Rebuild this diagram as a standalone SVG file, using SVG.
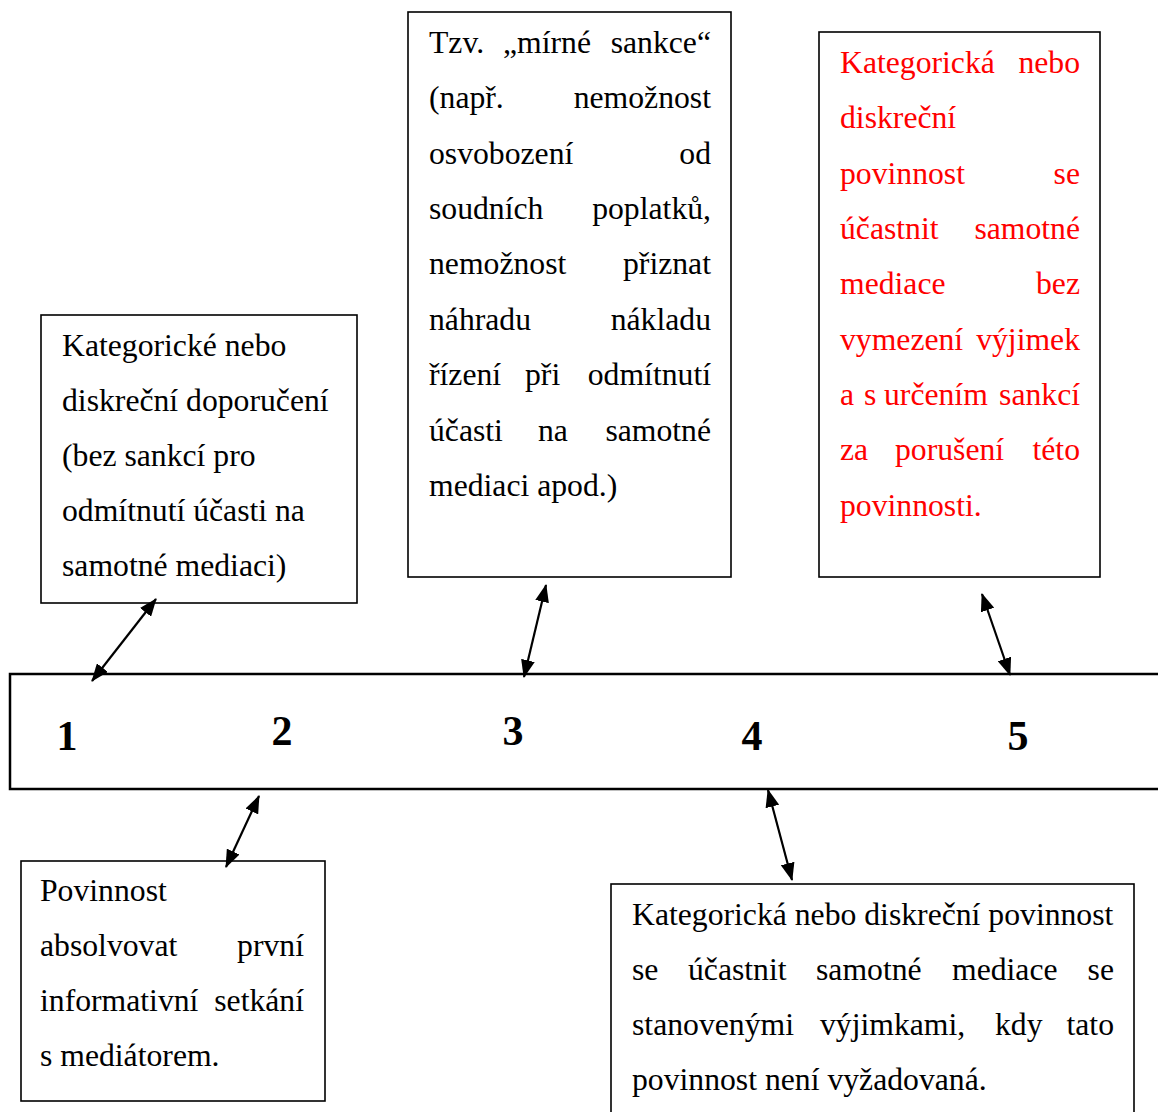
<svg xmlns="http://www.w3.org/2000/svg" width="1158" height="1112" viewBox="0 0 1158 1112">
<style>
.box{fill:#fff;stroke:#000;stroke-width:1.6}
.main{fill:#fff;stroke:#000;stroke-width:2.5}
.t{font-family:"Liberation Serif","Times New Roman",serif;font-size:31.7px;fill:#000}
.r{fill:#ff0000}
.e{text-anchor:end}
.num{font-family:"Liberation Serif","Times New Roman",serif;font-size:42px;font-weight:bold;fill:#000;text-anchor:middle}
.conn line{stroke:#000;stroke-width:2.2;marker-start:url(#ah);marker-end:url(#ah)}
</style>
<defs>
<marker id="ah" viewBox="0 0 18 14" markerWidth="18" markerHeight="14" refX="17" refY="7" orient="auto-start-reverse" markerUnits="userSpaceOnUse">
<path d="M0,0 L18,7 L0,14 z" fill="#000"/>
</marker>
</defs>
<rect width="1158" height="1112" fill="#fff"/>

<g id="timeline">
<rect class="main" x="10" y="674" width="1170" height="115"/>
<text class="num" x="67" y="750">1</text>
<text class="num" x="282" y="745">2</text>
<text class="num" x="513" y="745">3</text>
<text class="num" x="752" y="750">4</text>
<text class="num" x="1018" y="750">5</text>
</g>

<g id="box1">
<rect class="box" x="41" y="315" width="316" height="288"/>
<text class="t" x="62" y="356">Kategorické nebo</text>
<text class="t" x="62" y="411">diskreční doporučení</text>
<text class="t" x="62" y="466">(bez sankcí pro</text>
<text class="t" x="62" y="521">odmítnutí účasti na</text>
<text class="t" x="62" y="576">samotné mediaci)</text>
</g>

<g id="box3">
<rect class="box" x="408" y="12" width="323" height="565"/>
<text class="t" x="429" y="53">Tzv.</text><text class="t" x="503" y="53">„mírné</text><text class="t e" x="711" y="53">sankce“</text>
<text class="t" x="429" y="108">(např.</text><text class="t e" x="711" y="108">nemožnost</text>
<text class="t" x="429" y="164">osvobození</text><text class="t e" x="711" y="164">od</text>
<text class="t" x="429" y="219">soudních</text><text class="t e" x="711" y="219">poplatků,</text>
<text class="t" x="429" y="274">nemožnost</text><text class="t e" x="711" y="274">přiznat</text>
<text class="t" x="429" y="330">náhradu</text><text class="t e" x="711" y="330">nákladu</text>
<text class="t" x="429" y="385">řízení</text><text class="t" x="525" y="385">při</text><text class="t e" x="711" y="385">odmítnutí</text>
<text class="t" x="429" y="441">účasti</text><text class="t" x="538" y="441">na</text><text class="t e" x="711" y="441">samotné</text>
<text class="t" x="429" y="496">mediaci apod.)</text>
</g>

<g id="box5">
<rect class="box" x="819" y="32" width="281" height="545"/>
<text class="t r" x="840" y="73">Kategorická</text><text class="t r e" x="1080" y="73">nebo</text>
<text class="t r" x="840" y="128">diskreční</text>
<text class="t r" x="840" y="184">povinnost</text><text class="t r e" x="1080" y="184">se</text>
<text class="t r" x="840" y="239">účastnit</text><text class="t r e" x="1080" y="239">samotné</text>
<text class="t r" x="840" y="294">mediace</text><text class="t r e" x="1080" y="294">bez</text>
<text class="t r" x="840" y="350">vymezení</text><text class="t r e" x="1080" y="350">výjimek</text>
<text class="t r" x="840" y="405">a</text><text class="t r" x="864" y="405">s</text><text class="t r" x="884" y="405">určením</text><text class="t r e" x="1080" y="405">sankcí</text>
<text class="t r" x="840" y="460">za</text><text class="t r" x="895" y="460">porušení</text><text class="t r e" x="1080" y="460">této</text>
<text class="t r" x="840" y="516">povinnosti.</text>
</g>

<g id="box2">
<rect class="box" x="21" y="861" width="304" height="240"/>
<text class="t" x="40" y="901">Povinnost</text>
<text class="t" x="40" y="956">absolvovat</text><text class="t e" x="304" y="956">první</text>
<text class="t" x="40" y="1011">informativní</text><text class="t e" x="304" y="1011">setkání</text>
<text class="t" x="40" y="1066">s mediátorem.</text>
</g>

<g id="box4">
<rect class="box" x="611" y="884" width="523" height="240"/>
<text class="t" x="632" y="925">Kategorická nebo diskreční povinnost</text>
<text class="t" x="632" y="980">se</text><text class="t" x="688" y="980">účastnit</text><text class="t" x="816" y="980">samotné</text><text class="t" x="952" y="980">mediace</text><text class="t e" x="1114" y="980">se</text>
<text class="t" x="632" y="1035">stanovenými</text><text class="t" x="820" y="1035">výjimkami,</text><text class="t" x="995" y="1035">kdy</text><text class="t e" x="1114" y="1035">tato</text>
<text class="t" x="632" y="1090">povinnost není vyžadovaná.</text>
</g>

<g id="connectors" class="conn">
<line x1="92" y1="681" x2="156" y2="599"/>
<line x1="259" y1="796" x2="226" y2="867"/>
<line x1="524" y1="677" x2="546" y2="585"/>
<line x1="768" y1="790" x2="792" y2="880"/>
<line x1="982" y1="594" x2="1010" y2="675"/>
</g>
</svg>
